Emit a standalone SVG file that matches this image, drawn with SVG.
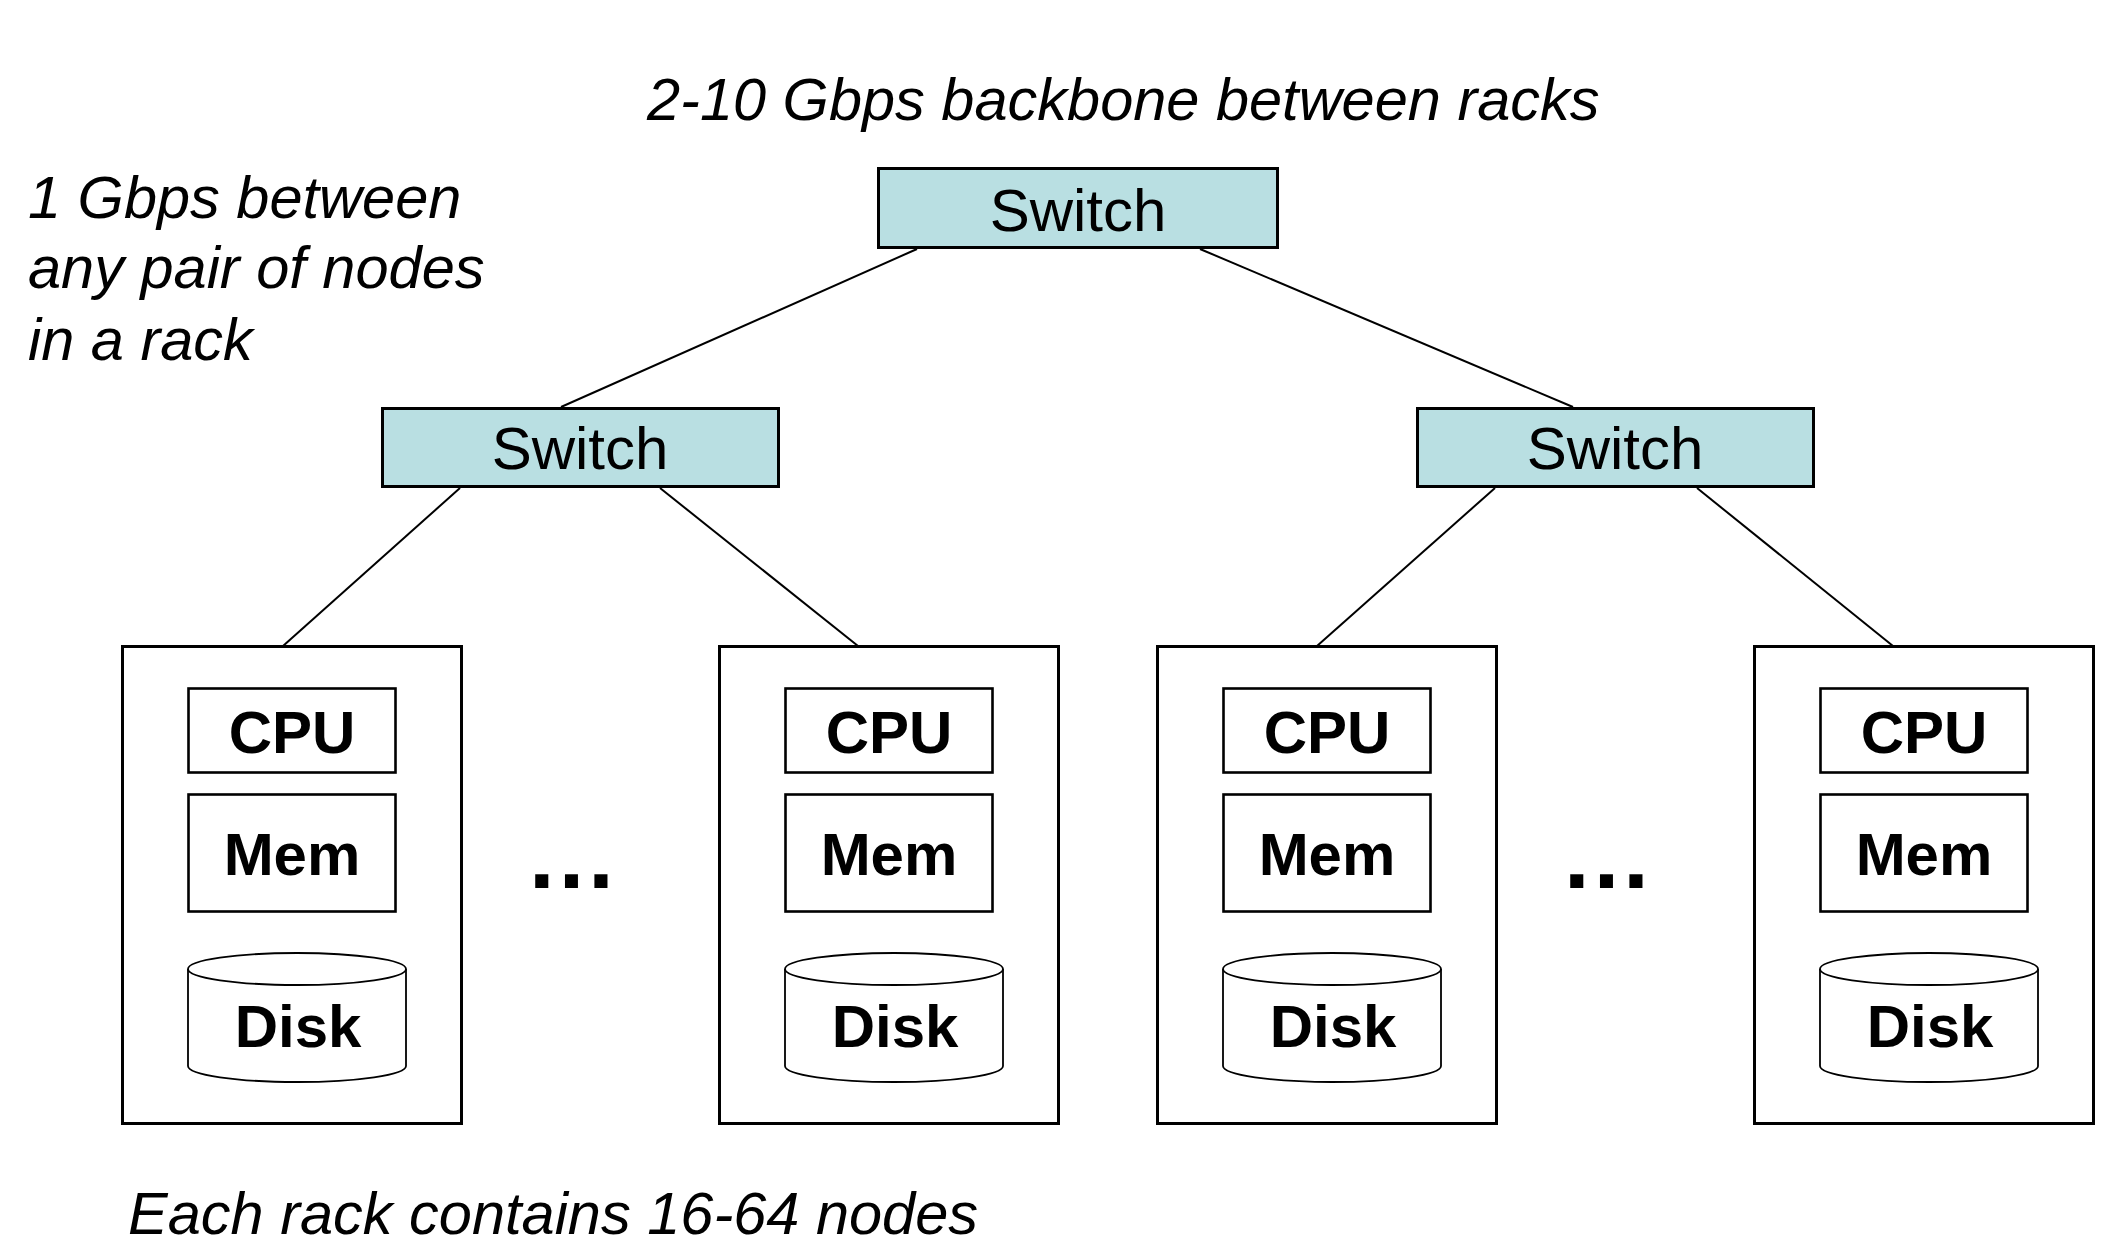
<svg xmlns="http://www.w3.org/2000/svg" width="2126" height="1259" viewBox="0 0 2126 1259">
<defs>
<style>
.bg{fill:#ffffff}
.sw{fill:#B9DFE2;stroke:#000;stroke-width:3}
.swt{font-family:"Liberation Sans",Arial,sans-serif;font-size:60px;fill:#000;text-anchor:middle}
.rack{fill:#fff;stroke:#000;stroke-width:3}
.box{fill:#fff;stroke:#000;stroke-width:2.6}
.disk{fill:#fff;stroke:#000;stroke-width:1.8}
.bt{font-family:"Liberation Sans",Arial,sans-serif;font-size:60px;font-weight:bold;fill:#000;text-anchor:middle}
.it{font-family:"Liberation Sans",Arial,sans-serif;font-size:59.5px;font-style:italic;fill:#000}
.dots{font-family:"Liberation Sans",Arial,sans-serif;font-size:93px;font-weight:bold;fill:#000;text-anchor:middle}
.ln{stroke:#000;stroke-width:2;fill:none}
</style>
<g id="rackShape">
<rect class="rack" x="1.5" y="646.5" width="339" height="477"/>
<rect class="box" x="67.5" y="688.5" width="207" height="84"/>
<text class="bt" x="171" y="753">CPU</text>
<rect class="box" x="67.5" y="794.5" width="207" height="117"/>
<text class="bt" x="171" y="875">Mem</text>
<path class="disk" d="M67,969 A109,16 0 0,1 285,969 L285,1066 A109,16 0 0,1 67,1066 Z"/>
<path class="disk" d="M67,969 A109,16 0 0,0 285,969"/>
<text class="bt" x="177" y="1047">Disk</text>
</g>
</defs>
<rect class="bg" x="0" y="0" width="2126" height="1259"/>

<g id="connectors">
<line class="ln" x1="917" y1="249" x2="561" y2="407"/>
<line class="ln" x1="1200" y1="249" x2="1573" y2="407"/>
<line class="ln" x1="460" y1="488" x2="283" y2="646"/>
<line class="ln" x1="660" y1="488" x2="858" y2="646"/>
<line class="ln" x1="1495" y1="488" x2="1317" y2="646"/>
<line class="ln" x1="1697" y1="488" x2="1893" y2="646"/>
</g>

<g id="switch-top">
<rect class="sw" x="878.5" y="168.5" width="399" height="79"/>
<text class="swt" x="1078" y="231">Switch</text>
</g>
<g id="switch-left">
<rect class="sw" x="382.5" y="408.5" width="396" height="78"/>
<text class="swt" x="580" y="469">Switch</text>
</g>
<g id="switch-right">
<rect class="sw" x="1417.5" y="408.5" width="396" height="78"/>
<text class="swt" x="1615" y="469">Switch</text>
</g>

<g id="rack-1"><use href="#rackShape" transform="translate(121,0)"/></g>
<g id="rack-2"><use href="#rackShape" transform="translate(718,0)"/></g>
<g id="rack-3"><use href="#rackShape" transform="translate(1156,0)"/></g>
<g id="rack-4"><use href="#rackShape" transform="translate(1753,0)"/></g>

<g id="ellipsis-left"><text class="dots" x="571.5" y="888">…</text></g>
<g id="ellipsis-right"><text class="dots" x="1606.5" y="888">…</text></g>

<g id="labels">
<text class="it" x="647" y="120">2-10 Gbps backbone between racks</text>
<text class="it" x="28" y="218">1 Gbps between</text>
<text class="it" x="28" y="288">any pair of nodes</text>
<text class="it" x="28" y="360">in a rack</text>
<text class="it" x="128" y="1234">Each rack contains 16-64 nodes</text>
</g>
</svg>
